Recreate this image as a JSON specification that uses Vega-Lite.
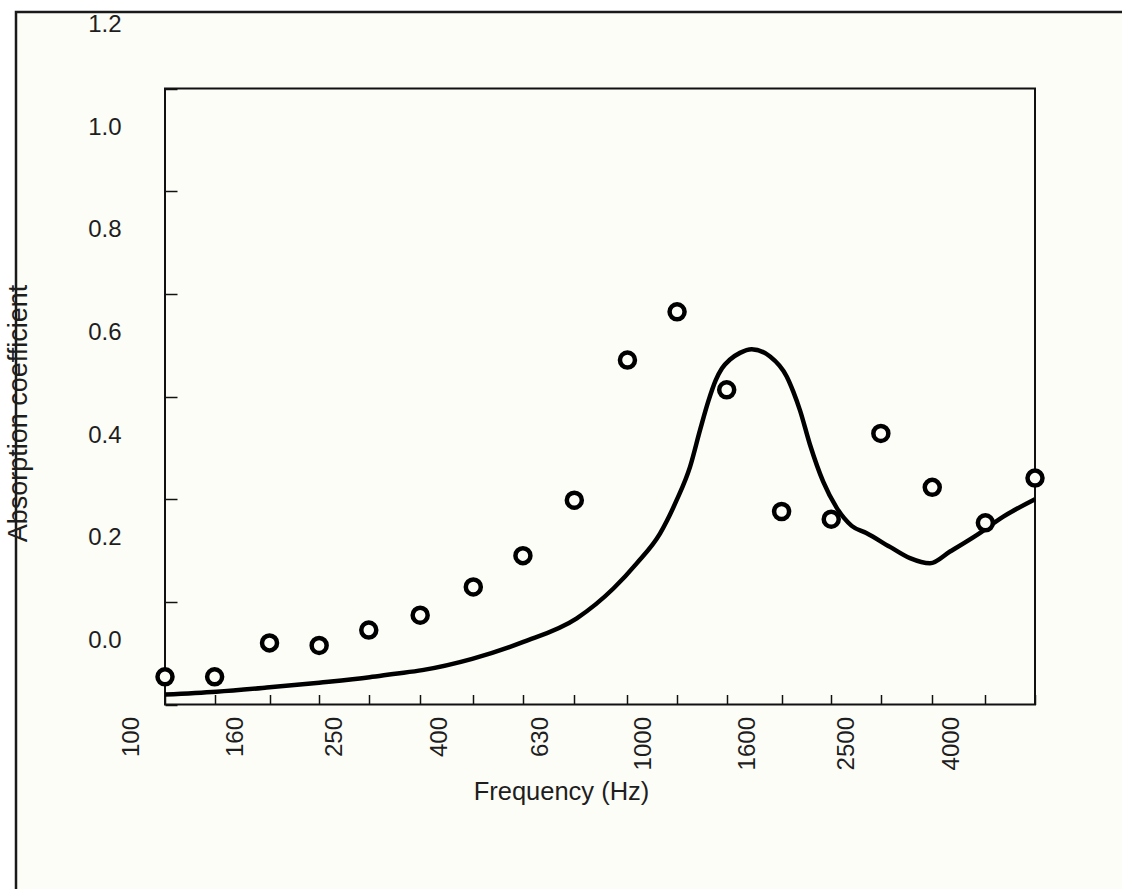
{
  "$schema": "https://vega.github.io/schema/vega-lite/v6.json",
  "width": 1120,
  "height": 890,
  "autosize": {"type": "none"},
  "padding": {"left": 16, "top": 12, "right": -14, "bottom": -13},
  "background": "#ffffff",
  "config": {
    "view": {"fill": "#fdfdf8", "stroke": "#1a1a1a", "strokeWidth": 2.5},
    "font": "Liberation Sans",
    "axis": {
      "grid": false,
      "labelFont": "Liberation Sans",
      "titleFont": "Liberation Sans",
      "labelColor": "#1e1e1e",
      "titleColor": "#1e1e1e",
      "titleFontWeight": "normal",
      "tickColor": "#111111",
      "tickWidth": 1.5,
      "labelBound": false,
      "labelOverlap": false,
      "labelFlush": false
    }
  },
  "datasets": {
    "measured": [
      {"frequency": 100, "absorption": 0.054},
      {"frequency": 125, "absorption": 0.054},
      {"frequency": 160, "absorption": 0.120},
      {"frequency": 200, "absorption": 0.115},
      {"frequency": 250, "absorption": 0.145},
      {"frequency": 315, "absorption": 0.174},
      {"frequency": 400, "absorption": 0.229},
      {"frequency": 500, "absorption": 0.290},
      {"frequency": 630, "absorption": 0.398},
      {"frequency": 800, "absorption": 0.671},
      {"frequency": 1000, "absorption": 0.765},
      {"frequency": 1250, "absorption": 0.613},
      {"frequency": 1600, "absorption": 0.376},
      {"frequency": 2000, "absorption": 0.361},
      {"frequency": 2500, "absorption": 0.528},
      {"frequency": 3150, "absorption": 0.423},
      {"frequency": 4000, "absorption": 0.354},
      {"frequency": 5000, "absorption": 0.441}
    ],
    "model": [
      {"frequency": 100, "absorption": 0.0195},
      {"frequency": 126, "absorption": 0.025},
      {"frequency": 158, "absorption": 0.033},
      {"frequency": 200, "absorption": 0.0425},
      {"frequency": 251, "absorption": 0.053},
      {"frequency": 279, "absorption": 0.0594},
      {"frequency": 318, "absorption": 0.067},
      {"frequency": 398, "absorption": 0.089},
      {"frequency": 501, "absorption": 0.122},
      {"frequency": 637, "absorption": 0.168},
      {"frequency": 751, "absorption": 0.226},
      {"frequency": 834, "absorption": 0.275},
      {"frequency": 926, "absorption": 0.333},
      {"frequency": 998, "absorption": 0.398},
      {"frequency": 1060, "absorption": 0.463},
      {"frequency": 1109, "absorption": 0.535},
      {"frequency": 1151, "absorption": 0.591},
      {"frequency": 1190, "absorption": 0.632},
      {"frequency": 1224, "absorption": 0.655},
      {"frequency": 1269, "absorption": 0.672},
      {"frequency": 1327, "absorption": 0.685},
      {"frequency": 1399, "absorption": 0.692},
      {"frequency": 1519, "absorption": 0.678},
      {"frequency": 1637, "absorption": 0.639},
      {"frequency": 1687, "absorption": 0.609},
      {"frequency": 1738, "absorption": 0.573},
      {"frequency": 1818, "absorption": 0.506},
      {"frequency": 1930, "absorption": 0.4335},
      {"frequency": 2050, "absorption": 0.383},
      {"frequency": 2193, "absorption": 0.348},
      {"frequency": 2346, "absorption": 0.3335},
      {"frequency": 2605, "absorption": 0.307},
      {"frequency": 2850, "absorption": 0.285},
      {"frequency": 3118, "absorption": 0.275},
      {"frequency": 3412, "absorption": 0.298},
      {"frequency": 3847, "absorption": 0.330},
      {"frequency": 4336, "absorption": 0.366},
      {"frequency": 5000, "absorption": 0.400}
    ]
  },
  "layer": [
    {
      "data": {"values": [{}]},
      "mark": {"type": "rect", "filled": false, "fill": null, "stroke": "#111111", "strokeWidth": 2},
      "encoding": {
        "x": {
          "datum": 100,
          "type": "quantitative",
          "scale": {"type": "log", "domain": [100, 5000], "range": [149, 1019], "nice": false},
          "axis": {
            "orient": "bottom",
            "offset": -197.5,
            "domain": false,
            "values": [100, 125, 160, 200, 250, 315, 400, 500, 630, 800, 1000, 1250, 1600, 2000, 2500, 3150, 4000, 5000],
            "format": "d",
            "labelExpr": "indexof([100,160,250,400,630,1000,1600,2500,4000], datum.value) >= 0 ? datum.label : ''",
            "tickSize": -10,
            "labelAngle": 270,
            "labelAlign": "right",
            "labelBaseline": "middle",
            "labelPadding": 22,
            "labelOffset": -34,
            "labelFontSize": 24,
            "title": "Frequency (Hz)",
            "titleFontSize": 25.5,
            "titleX": 545,
            "titleY": 94.5,
            "titleAlign": "center",
            "titleBaseline": "alphabetic",
            "titleAnchor": null
          }
        },
        "x2": {"datum": 5000},
        "y": {
          "datum": 0,
          "type": "quantitative",
          "scale": {"domain": [0, 1.2], "range": [692.5, 76.5], "nice": false, "zero": false},
          "axis": {
            "orient": "left",
            "offset": -149,
            "domain": false,
            "values": [0, 0.2, 0.4, 0.6, 0.8, 1.0, 1.2],
            "format": ".1f",
            "tickSize": -12,
            "labelPadding": 56,
            "labelOffset": -64,
            "labelFontSize": 24,
            "title": "Absorption coefficient",
            "titleFontSize": 27,
            "titleAngle": 270,
            "titleX": -147,
            "titleY": 401,
            "titleAlign": "center",
            "titleBaseline": "middle",
            "titleAnchor": null
          }
        },
        "y2": {"datum": 1.2}
      }
    },
    {
      "data": {"name": "model"},
      "mark": {"type": "line", "interpolate": "monotone", "color": "#000000", "strokeWidth": 4.5},
      "encoding": {
        "x": {"field": "frequency", "type": "quantitative"},
        "y": {"field": "absorption", "type": "quantitative"}
      }
    },
    {
      "data": {"name": "measured"},
      "mark": {"type": "point", "shape": "circle", "size": 225, "filled": true, "fill": "#fdfdf8", "stroke": "#000000", "strokeWidth": 4.5, "opacity": 1},
      "encoding": {
        "x": {"field": "frequency", "type": "quantitative"},
        "y": {"field": "absorption", "type": "quantitative"}
      }
    }
  ]
}
